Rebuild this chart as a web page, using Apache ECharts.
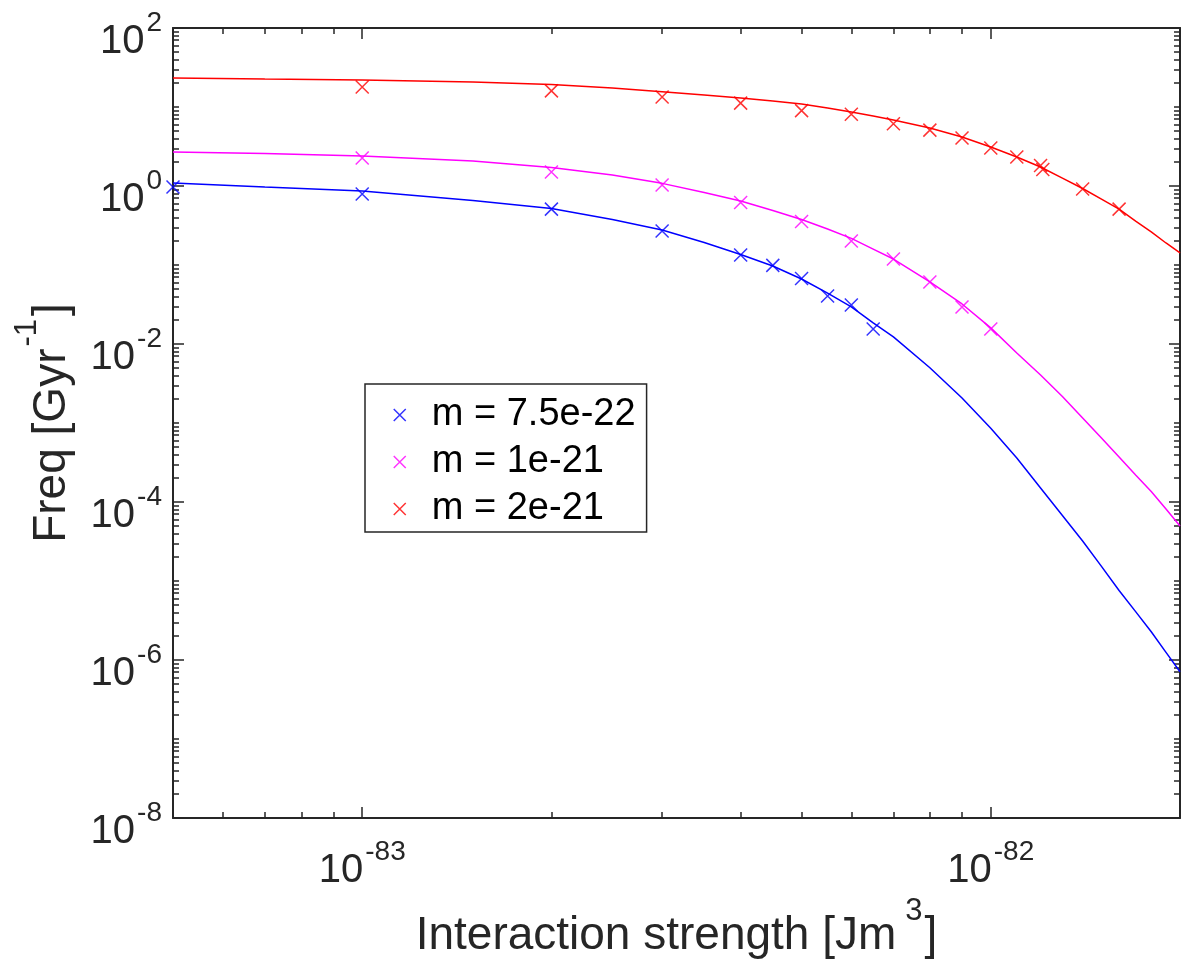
<!DOCTYPE html>
<html><head><meta charset="utf-8">
<script src="https://cdn.jsdelivr.net/npm/echarts@6/dist/echarts.min.js"></script>
<style>html,body{margin:0;padding:0;background:#fff}#c{width:1187px;height:964px}</style>
</head><body><div id="c"></div>
<script>
// ---- axis ranges & tick labels ----
const xRange = [5e-84, 2e-82];
const yRange = [1e-8, 1e2];
const xTickLabels = [1e-83, 1e-82];
const yTickLabels = [1e-8, 1e-6, 1e-4, 1e-2, 1e0, 1e2];

// ---- series names / colours ----
const seriesNames = ['m = 7.5e-22', 'm = 1e-21', 'm = 2e-21'];
const seriesColors = ['#0000ff', '#ff00ff', '#ff0000'];

// ---- simulated points (x markers) ----
const blueSimX = [5e-84, 1e-83, 2e-83, 3e-83, 4e-83, 4.5e-83, 5e-83, 5.5e-83, 6e-83, 6.5e-83];
const blueSimY = [0.97, 0.79, 0.51, 0.269, 0.134, 0.099, 0.0675, 0.0406, 0.0312, 0.0155];
const magentaSimX = [1e-83, 2e-83, 3e-83, 4e-83, 5e-83, 6e-83, 7e-83, 8e-83, 9e-83, 1e-82];
const magentaSimY = [2.26, 1.50, 1.03, 0.618, 0.356, 0.201, 0.119, 0.061, 0.0294, 0.0155];
const redSimX = [1e-83, 2e-83, 3e-83, 4e-83, 5e-83, 6e-83, 7e-83, 8e-83, 9e-83, 1e-82, 1.1e-82, 1.2e-82, 1.21e-82, 1.4e-82, 1.6e-82];
const redSimY = [17.9, 16.0, 13.4, 11.2, 9.0, 8.1, 6.15, 5.1, 4.06, 3.03, 2.33, 1.82, 1.62, 0.916, 0.51];

// ---- fitted curves ----
const fitX = [5e-84, 7e-84, 1e-83, 1.5e-83, 2e-83, 2.5e-83, 3e-83, 3.5e-83, 4e-83, 4.5e-83, 5e-83, 5.5e-83, 6e-83, 6.5e-83, 7e-83, 8e-83, 9e-83, 1e-82, 1.1e-82, 1.2e-82, 1.3e-82, 1.4e-82, 1.5e-82, 1.6e-82, 1.7e-82, 1.8e-82, 1.9e-82, 2e-82];
const blueFit = [1.09, 0.971, 0.865, 0.655, 0.519, 0.377, 0.277, 0.193, 0.136, 0.097, 0.0665, 0.0440, 0.0295, 0.0185, 0.0123, 0.00500, 0.00207, 8.57e-4, 3.61e-4, 1.50e-4, 6.73e-5, 3.21e-5, 1.53e-5, 7.58e-6, 4.10e-6, 2.28e-6, 1.25e-6, 7.1e-7];
const magentaFit = [2.69, 2.58, 2.40, 2.07, 1.71, 1.38, 1.08, 0.828, 0.646, 0.490, 0.376, 0.286, 0.217, 0.159, 0.119, 0.0610, 0.0321, 0.0160, 0.00769, 0.00405, 0.00216, 0.00116, 6.46e-4, 3.71e-4, 2.20e-4, 1.36e-4, 8.15e-5, 4.96e-5];
const redFit = [23.3, 22.6, 22.0, 20.7, 19.3, 17.4, 15.6, 14.2, 13.0, 11.9, 10.9, 9.71, 8.65, 7.69, 6.84, 5.42, 4.17, 3.12, 2.33, 1.74, 1.26, 0.929, 0.684, 0.511, 0.360, 0.262, 0.190, 0.142];

// ---------------------------------------------------------------
const FONT = "'Liberation Sans', Arial, Helvetica, sans-serif";
const AX = '#262626';
const XPATH = 'path://M0,0L10,10M10,0L0,10';
const lg = v => Math.log10(v);
const zip = (a, b) => a.map((v, i) => [v, b[i]]);

function minorExps(range) {
  const out = [];
  const e0 = Math.floor(lg(range[0])), e1 = Math.ceil(lg(range[1]));
  for (let e = e0; e <= e1; e++) for (let k = 1; k <= 9; k++) {
    const v = lg(k) + e;
    if (v >= lg(range[0]) - 1e-9 && v <= lg(range[1]) + 1e-9) out.push(v);
  }
  return out;
}
const xMinor = minorExps(xRange), yMinor = minorExps(yRange);
const xMajor = xTickLabels.map(v => Math.round(lg(v)));
const yMajor = yTickLabels.map(v => Math.round(lg(v)));

const tickRich = {
  b: { fontSize: 40, lineHeight: 53, verticalAlign: 'bottom', fontFamily: FONT, color: AX },
  s: { fontSize: 28, lineHeight: 26, verticalAlign: 'top', fontFamily: FONT, color: AX, padding: [0, 0, 0, 2] }
};
const nameRich = {
  b: { fontSize: 46, lineHeight: 63, verticalAlign: 'bottom', fontFamily: FONT, color: AX },
  s: { fontSize: 31, lineHeight: 26, verticalAlign: 'top', fontFamily: FONT, color: AX, padding: [0, 2, 0, 9] },
  t: { fontSize: 31, lineHeight: 26, verticalAlign: 'top', fontFamily: FONT, color: AX, padding: [0, 3, 0, 2] }
};
const fmt = v => '{b|10}{s|' + Math.round(v) + '}';

function tickAxis(dim, pos, ticks, len, showLine, labels, extra) {
  const range = dim === 'x' ? xRange : yRange;
  return {
    type: 'value', position: pos, min: lg(range[0]), max: lg(range[1]),
    splitLine: { show: false },
    axisLine: { show: showLine, onZero: false, lineStyle: { color: AX, width: 2 } },
    axisTick: { show: true, inside: true, length: len, customValues: ticks, lineStyle: { color: AX, width: 1.5 } },
    axisLabel: labels ? Object.assign({ show: true, customValues: labels, formatter: fmt, rich: tickRich }, extra || {}) : { show: false }
  };
}

const xAxes = [
  { type: 'log', min: xRange[0], max: xRange[1], show: false, logBase: 10 },
  Object.assign(tickAxis('x', 'bottom', xMajor, 11, true, xMajor, { margin: 20 }), {
    name: '{b|Interaction strength [Jm}{s|3}{b|]}', nameLocation: 'middle', nameGap: 73,
    nameTextStyle: { rich: nameRich }
  }),
  tickAxis('x', 'bottom', xMinor, 6, false, null),
  tickAxis('x', 'top', xMajor, 11, true, null),
  tickAxis('x', 'top', xMinor, 6, false, null)
];
const yAxes = [
  { type: 'log', min: yRange[0], max: yRange[1], show: false, logBase: 10 },
  Object.assign(tickAxis('y', 'left', yMajor, 11, true, yMajor, { margin: 11, padding: [15, 0, 0, 0] }), {
    name: '{b|Freq [Gyr}{t|-1}{b|]}', nameLocation: 'middle', nameGap: 98,
    nameTextStyle: { rich: nameRich }
  }),
  tickAxis('y', 'left', yMinor, 6, false, null),
  tickAxis('y', 'right', yMajor, 11, true, null),
  tickAxis('y', 'right', yMinor, 6, false, null)
];

const fits = [blueFit, magentaFit, redFit];
const sims = [[blueSimX, blueSimY], [magentaSimX, magentaSimY], [redSimX, redSimY]];
const series = [];
fits.forEach((f, i) => series.push({
  type: 'line', name: 'fit ' + seriesNames[i], xAxisIndex: 0, yAxisIndex: 0,
  data: zip(fitX, f), showSymbol: false, smooth: false,
  lineStyle: { color: seriesColors[i], width: 1.5 }, itemStyle: { color: seriesColors[i] },
  silent: true, z: 2
}));
sims.forEach((s, i) => series.push({
  type: 'scatter', name: seriesNames[i], xAxisIndex: 0, yAxisIndex: 0,
  data: zip(s[0], s[1]), symbol: XPATH, symbolSize: 13, clip: false,
  itemStyle: { color: 'transparent', borderColor: seriesColors[i], borderWidth: 1.5 },
  z: 3
}));

const chart = echarts.init(document.getElementById('c'), null, { renderer: 'canvas' });
chart.setOption({
  animation: false,
  backgroundColor: '#fff',
  grid: { left: 173, right: 7, top: 28, bottom: 146, containLabel: false, outerBoundsMode: 'none' },
  xAxis: xAxes,
  yAxis: yAxes,
  legend: {
    data: seriesNames.map((n, i) => ({ name: n, icon: XPATH,
      itemStyle: { color: 'transparent', borderColor: seriesColors[i], borderWidth: 1.5 } })),
    orient: 'vertical', left: 365, top: 384, padding: [12, 11, 4, 28], itemGap: 9,
    itemWidth: 44, itemHeight: 12, symbolKeepAspect: true, selectedMode: false,
    textStyle: { fontSize: 38, lineHeight: 38, color: '#000', fontFamily: FONT, padding: [0, 0, 0, 5] },
    borderColor: AX, borderWidth: 1.5, backgroundColor: '#fff', borderRadius: 0
  },
  series: series
});
</script></body></html>
